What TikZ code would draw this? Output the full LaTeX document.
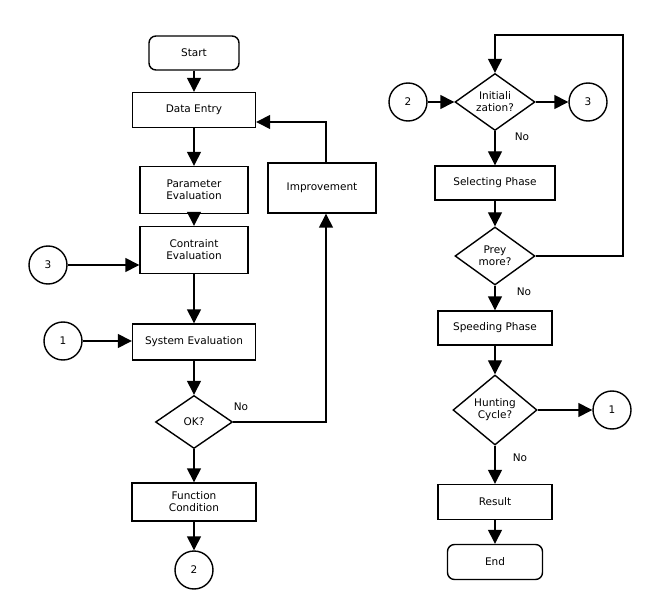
\documentclass[tikz,border=0pt]{standalone}
\usepackage{fontspec}
\setmainfont{DejaVu Sans}
\usetikzlibrary{shapes.geometric,arrows.meta}
\begin{document}
\begin{tikzpicture}[x=1pt,y=-1pt,
  every node/.style={font=\fontsize{10.5}{12}\selectfont,align=center},
  box/.style={draw,line width=1.4pt,rectangle,inner sep=0pt},
  term/.style={draw,line width=1.4pt,rectangle,rounded corners=7pt,inner sep=0pt},
  dia/.style={draw,line width=1.4pt,diamond,aspect=1.4,inner sep=0pt},
  circ/.style={draw,line width=1.4pt,circle,minimum size=38pt,inner sep=0pt},
  arr/.style={line width=1.4pt,-{Triangle[length=14pt,width=14pt]}}]
\useasboundingbox (0,0) rectangle (662,615);
% left column
\node[term,minimum width=90pt,minimum height=34pt] (start) at (194,53) {Start};
\node[box,minimum width=123pt,minimum height=35pt] (de) at (194,110) {Data Entry};
\node[box,minimum width=108pt,minimum height=47pt] (pe) at (194,190) {Parameter\\Evaluation};
\node[box,minimum width=108pt,minimum height=47pt] (ce) at (194,250) {Contraint\\Evaluation};
\node[box,minimum width=123pt,minimum height=36pt] (se) at (194,342) {System Evaluation};
\node[dia,minimum width=77pt,minimum height=53pt] (ok) at (194,422) {OK?};
\node[box,minimum width=124pt,minimum height=38pt] (fc) at (194,502) {Function\\Condition};
\node[circ] (c2a) at (194,570) {2};
\node[circ] (c3a) at (48,265) {3};
\node[circ] (c1a) at (63,341) {1};
\node[box,minimum width=108pt,minimum height=50pt] (imp) at (322,188) {Improvement};
\node at (241,407) {No};
\coordinate (okr) at (326,422);
\coordinate (impt) at (326,122);
\draw[arr] (start) -- (de);
\draw[arr] (de) -- (pe);
\draw[arr] (pe) -- (ce);
\draw[arr] (ce) -- (se);
\draw[arr] (se) -- (ok);
\draw[arr] (ok) -- (fc);
\draw[arr] (fc) -- (c2a);
\draw[arr] (c3a) -- (c3a -| ce.west);
\draw[arr] (c1a) -- (c1a -| se.west);
\draw[arr] (ok.east) -- (okr) -- (okr |- imp.south);
\draw[arr] (imp.north -| okr) -- (impt) -- (impt -| de.east);
% right column
\node[dia,minimum width=80pt,minimum height=57pt] (ini) at (495,102) {Initiali\\zation?};
\node[circ] (c2b) at (408,102) {2};
\node[circ] (c3b) at (588,102) {3};
\node[box,minimum width=120pt,minimum height=34pt] (sp) at (495,183) {Selecting Phase};
\node[dia,minimum width=80pt,minimum height=58pt] (prey) at (495,256) {Prey\\more?};
\node[box,minimum width=114pt,minimum height=34pt] (spd) at (495,328) {Speeding Phase};
\node[dia,minimum width=84pt,minimum height=70pt] (hc) at (495,410) {Hunting\\Cycle?};
\node[circ] (c1b) at (612,410) {1};
\node[box,minimum width=114pt,minimum height=35pt] (res) at (495,502) {Result};
\node[term,minimum width=95pt,minimum height=35pt] (end) at (495,562) {End};
\node at (522,137) {No};
\node at (524,292) {No};
\node at (520,458) {No};
\coordinate (lr) at (623,256);
\coordinate (lt) at (623,35);
\draw[arr] (c2b) -- (ini);
\draw[arr] (ini) -- (c3b);
\draw[arr] (ini) -- (sp);
\draw[arr] (sp) -- (prey);
\draw[arr] (prey.east) -- (lr) -- (lt) -- (lt -| ini) -- (ini.north);
\draw[arr] (prey) -- (spd);
\draw[arr] (spd) -- (hc);
\draw[arr] (hc) -- (c1b);
\draw[arr] (hc) -- (res);
\draw[arr] (res) -- (end);
\end{tikzpicture}
\end{document}
